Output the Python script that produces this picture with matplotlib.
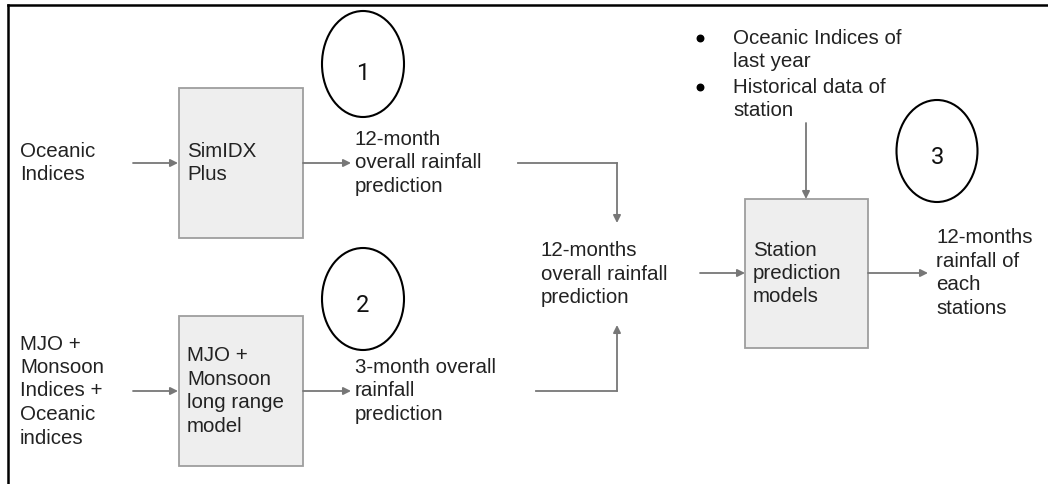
import matplotlib.pyplot as plt
from matplotlib.patches import Rectangle, Ellipse

plt.rcParams['font.family'] = ['Liberation Sans', 'DejaVu Sans']

# Texts of the diagram
inputs = ["Oceanic\nIndices", "MJO +\nMonsoon\nIndices +\nOceanic\nindices"]
models = ["SimIDX\nPlus", "MJO +\nMonsoon\nlong range\nmodel"]
outputs = ["12-month\noverall rainfall\nprediction", "3-month overall\nrainfall\nprediction"]
merged = "12-months\noverall rainfall\nprediction"
station_inputs = ["Oceanic Indices of\nlast year", "Historical data of\nstation"]
station_model = "Station\nprediction\nmodels"
final_output = "12-months\nrainfall of\neach\nstations"
step_numbers = ["1", "2", "3"]

TXT = '#222222'
LINE = '#777777'
BOX_FACE = '#eeeeee'
BOX_EDGE = '#9e9e9e'
FS = 14.8
LS = 1.3

fig = plt.figure(figsize=(10.48, 4.84), dpi=100)
ax = fig.add_axes([0, 0, 1, 1])
ax.set_xlim(0, 1048)
ax.set_ylim(484, 0)
ax.axis('off')

# ramka (widoczna tylko z gory i z lewej)
ax.plot([8, 1048], [5, 5], color='black', lw=1.8)
ax.plot([8, 8], [5, 484], color='black', lw=1.8)


def arrow(x0, y0, x1, y1):
    ax.annotate('', xy=(x1, y1), xytext=(x0, y0),
                arrowprops=dict(arrowstyle='-|>', color=LINE, lw=1.3,
                                mutation_scale=11, shrinkA=0, shrinkB=0))


def box(x, y, w, h, label):
    ax.add_patch(Rectangle((x, y), w, h, facecolor=BOX_FACE, edgecolor=BOX_EDGE, lw=1.3))
    ax.text(x + 8, y + h / 2, label, fontsize=FS, color=TXT, va='center', ha='left',
            linespacing=LS)


rows_y = [163, 391]
for i, yc in enumerate(rows_y):
    ax.text(20, yc, inputs[i], fontsize=FS, color=TXT, va='center', ha='left', linespacing=LS)
    arrow(133, yc, 178, yc)
    box(179, yc - 75, 124, 150, models[i])
    arrow(303, yc, 351, yc)
    ax.text(355, yc, outputs[i], fontsize=FS, color=TXT, va='center', ha='left', linespacing=LS)

# laczenie obu prognoz
ax.plot([518, 617], [163, 163], color=LINE, lw=1.3)
arrow(617, 163, 617, 223)
ax.plot([536, 617], [391, 391], color=LINE, lw=1.3)
arrow(617, 391, 617, 325)
ax.text(541, 274, merged, fontsize=FS, color=TXT, va='center', ha='left', linespacing=LS)

# model stacji
arrow(700, 273, 745, 273)
box(745, 199, 123, 149, station_model)
arrow(868, 273, 928, 273)
ax.text(936, 273, final_output, fontsize=FS, color=TXT, va='center', ha='left', linespacing=LS)

# dane wejsciowe stacji (lista punktowana)
for j, (label, yc) in enumerate(zip(station_inputs, [50, 99])):
    ax.scatter(700, yc - 12, s=22, color='black', zorder=3)
    ax.text(733, yc, label, fontsize=FS, color=TXT, va='center', ha='left', linespacing=LS)
arrow(806, 123, 806, 199)

# numerowane kolka
circles = [(363, 64, 82, 106, 74), (363, 299, 82, 102, 305), (937, 151, 81, 102, 157)]
for num, (cx, cy, w, h, ty) in zip(step_numbers, circles):
    ax.add_patch(Ellipse((cx, cy), w, h, facecolor='white', edgecolor='black', lw=1.5))
    ax.text(cx, ty, num, fontsize=17, color='#111111', ha='center', va='center',
            family='Roboto')

fig.savefig('out.png', dpi=100)
